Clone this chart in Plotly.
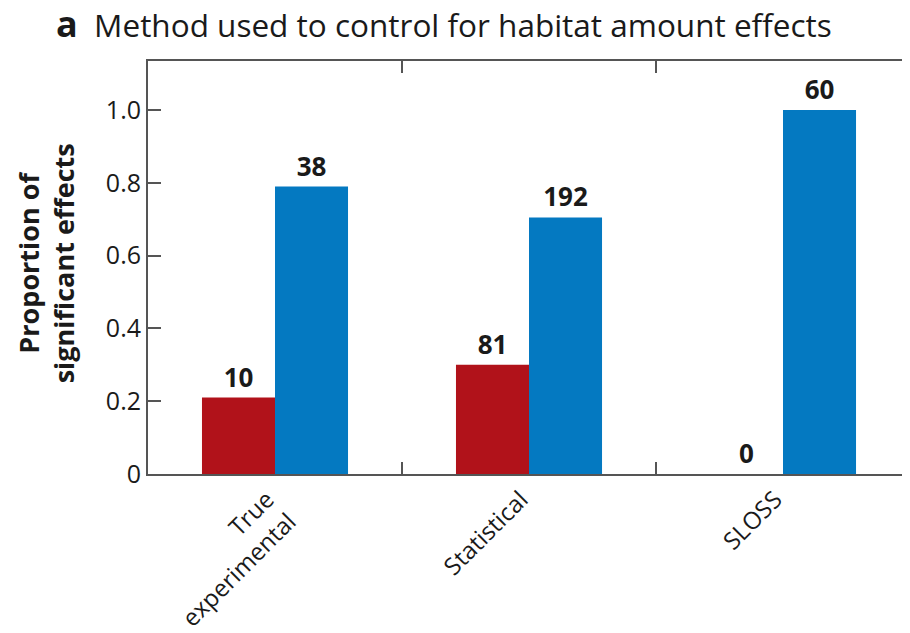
import plotly.graph_objects as go

categories = ["True<br>experimental", "Statistical", "SLOSS"]
red_values = [0.21, 0.30, 0.0]
blue_values = [0.79, 0.705, 1.0]
red_counts = ["10", "81", "0"]
blue_counts = ["38", "192", "60"]
y_ticks = [0, 0.2, 0.4, 0.6, 0.8, 1.0]
y_tick_labels = ["0", "0.2", "0.4", "0.6", "0.8", "1.0"]

FONT = "Open Sans"
RED = "#B1121A"
BLUE = "#0479C1"
INK = "#1a1a1a"
AX = "#555555"

# the page body adds an 8px margin, so the figure is drawn 8px in from the corner
W, H = 902, 625

fig = go.Figure()
fig.add_trace(go.Bar(x=categories, y=red_values, marker=dict(color=RED, line=dict(width=0)),
                     text=red_counts, textposition="outside", cliponaxis=False,
                     textfont=dict(family=FONT, size=26, color=INK, weight="bold")))
fig.add_trace(go.Bar(x=categories, y=blue_values, marker=dict(color=BLUE, line=dict(width=0)),
                     text=blue_counts, textposition="outside", cliponaxis=False,
                     textfont=dict(family=FONT, size=26, color=INK, weight="bold")))

fig.update_layout(
    width=W, height=H,
    margin=dict(l=140, r=0, t=53, b=159),
    paper_bgcolor="white", plot_bgcolor="white",
    barmode="group", bargap=0.425, bargroupgap=0,
    showlegend=False,
    font=dict(family=FONT, color="#333333"),
    title=dict(text="<span style='font-size:36px'><b>a</b></span>&nbsp; Method used to control for habitat amount effects",
               x=48 / W, xanchor="left", y=1 - 18 / H, yanchor="middle",
               font=dict(family=FONT, size=31.5, color=INK)),
    xaxis=dict(type="category", tickson="boundaries", ticks="inside", ticklen=12,
               tickwidth=2, tickcolor=AX, showline=True, linecolor=AX,
               linewidth=2, mirror="ticks", tickangle=-45, automargin=False,
               ticklabelshift=-8,
               tickfont=dict(family=FONT, size=24, color=INK),
               range=[-0.5, 2.5], showgrid=False),
    yaxis=dict(range=[0, 1.135], tickvals=y_ticks, ticktext=y_tick_labels,
               ticks="inside", ticklen=13, tickwidth=2, tickcolor=AX,
               showline=True, linecolor=AX, linewidth=2, mirror=False,
               automargin=False,
               tickfont=dict(family=FONT, size=25, color=INK),
               showgrid=False, zeroline=False),
    yaxis2=dict(overlaying="y", side="right", matches="y", range=[0, 1.135],
                tickvals=y_ticks, ticks="inside", ticklen=13, tickwidth=2,
                tickcolor=AX, showticklabels=False, showline=False,
                automargin=False, showgrid=False, zeroline=False),
    annotations=[dict(text="<b>Proportion of<br>significant effects</b>",
                      xref="paper", yref="paper", x=(38 - 140) / 762, y=0.51,
                      xanchor="center", yanchor="middle", textangle=-90,
                      showarrow=False, align="center",
                      font=dict(family=FONT, size=27, color=INK))],
)

fig.write_html("out.html")
